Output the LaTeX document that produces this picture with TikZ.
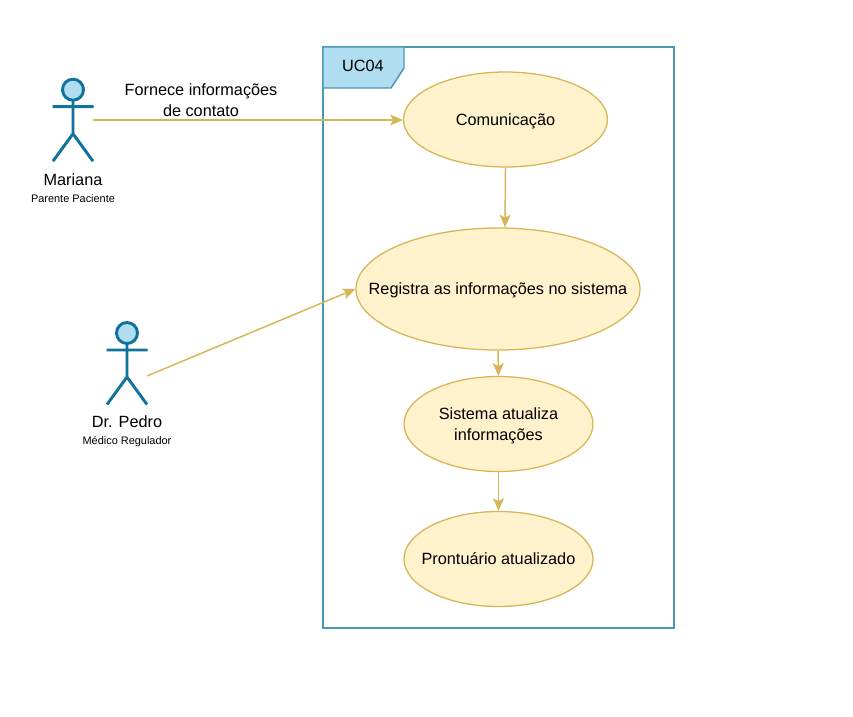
\documentclass[tikz,border=0pt]{standalone}
\usepackage{fontspec}
\setmainfont{Liberation Sans}
\definecolor{bl}{HTML}{10739E}
\definecolor{blf}{HTML}{B1DDF0}
\definecolor{ye}{HTML}{D6B656}
\definecolor{yef}{HTML}{FFF2CC}
\usetikzlibrary{shapes.geometric,arrows.meta}
\tikzset{x=0.75pt,y=-0.75pt,
 uc/.style={ellipse,draw=ye,fill=yef,line width=0.95pt,inner xsep=-60pt,inner ysep=-20pt,align=center,font=\fontsize{12.2pt}{15.75pt}\selectfont},
 lbl/.style={inner sep=0pt,align=center,font=\fontsize{12.2pt}{15.75pt}\selectfont},
 sm/.style={inner sep=0pt,font=\fontsize{8.2pt}{10pt}\selectfont},
 act/.style={draw=bl,line width=2.2pt},
 ar/.style={draw=ye,line width=1.1pt,-{Stealth[length=9.5pt,width=8.2pt,inset=2.2pt]}}}
\begin{document}
\begin{tikzpicture}
\useasboundingbox (0,0) rectangle (853,717);
\fill[white] (0,0) rectangle (853,717);
% frame
\draw[bl!75!white,line width=1.1pt,fill=white] (323,47) rectangle (674,628);
\draw[bl!75!white,line width=1.1pt,fill=blf] (323,47) -- (404,47) -- (404,68) -- (391,88) -- (323,88) -- cycle;
\node[lbl] (t) at (363,66) {UC04};
% use cases
\node[uc,text depth=0pt,minimum width=153pt,minimum height=71.25pt] (a) at (505.5,119.5) {Comunicação};
\node[uc,text depth=0pt,minimum width=213pt,minimum height=91.5pt] (b) at (498,289) {Registra as informações no sistema};
\node[uc,text depth=0pt,minimum width=141.75pt,minimum height=71.25pt] (c) at (498.5,424) {Sistema atualiza\\informações};
\node[uc,minimum width=141.75pt,minimum height=71.25pt] (d) at (498.5,559) {Prontuário atualizado};
% actors
\foreach \n/\cx/\ty in {m/73/78.7,p/127/322}{
 \draw[act,fill=blf] (\cx,\ty+11) circle (10.5);
 \draw[act] (\cx,\ty+21.5) -- (\cx,\ty+55) (\cx-20.5,\ty+28) -- (\cx+20.5,\ty+28)
 (\cx-20,\ty+82.5) -- (\cx,\ty+55) -- (\cx+20,\ty+82.5);
}
\coordinate (ma) at (93,120);
\coordinate (pa) at (147,376);
\node[lbl] (n1) at (73,180) {Mariana};
\node[sm] (n2) at (73,199) {Parente Paciente};
\node[lbl] (n3) at (127,422) {Dr. Pedro};
\node[sm] (n4) at (127,442) {Médico Regulador};
\node[lbl] (l) at (201,100) {Fornece informações\\de contato};
% connectors
\draw[ar] (ma) -- (a.west |- ma);
\draw[ar] (pa) -- (b.west);
\draw[ar] (a.south) -- (b.north -| 505,0);
\draw[ar] (b.south) -- (c.north);
\draw[ar] (c.south) -- (d.north);
\end{tikzpicture}
\end{document}
